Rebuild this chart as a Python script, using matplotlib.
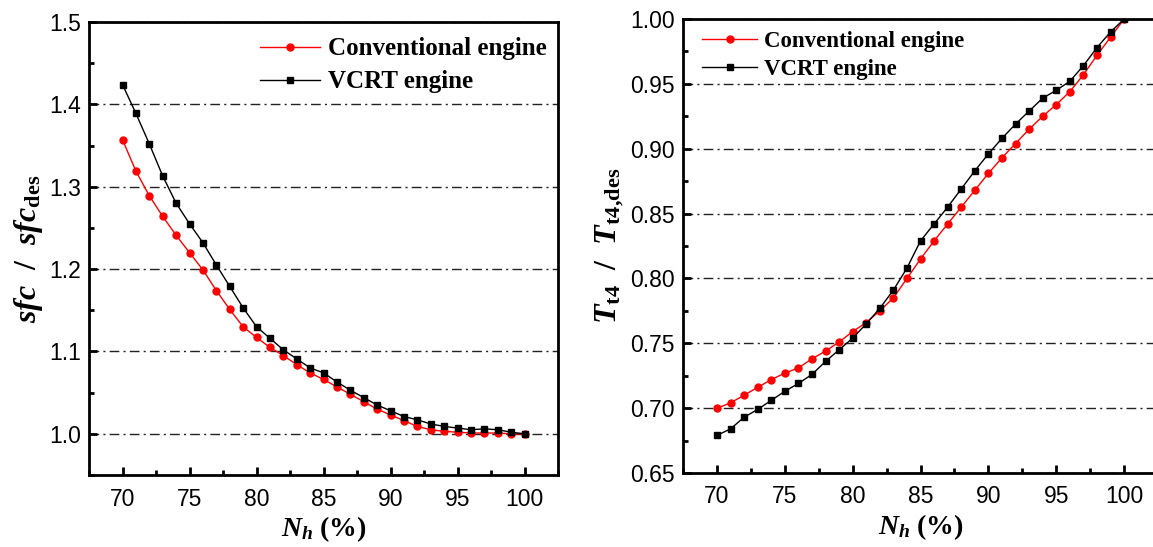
import numpy as np
import matplotlib
matplotlib.use("Agg")
import matplotlib.pyplot as plt
from matplotlib.ticker import MultipleLocator

# relative speed (%) for both panels
nh = list(range(70, 101))

# specific fuel consumption ratio
sfc_conv = [1.357, 1.319, 1.289, 1.264, 1.241, 1.220, 1.199, 1.174, 1.151, 1.130,
            1.117, 1.105, 1.095, 1.084, 1.074, 1.066, 1.057, 1.048, 1.039, 1.030,
            1.023, 1.016, 1.009, 1.005, 1.003, 1.002, 1.001, 1.001, 1.001, 1.000, 1.000]
sfc_vcrt = [1.424, 1.389, 1.352, 1.313, 1.280, 1.255, 1.232, 1.205, 1.179, 1.153,
            1.130, 1.116, 1.102, 1.091, 1.080, 1.074, 1.063, 1.053, 1.044, 1.035,
            1.028, 1.021, 1.017, 1.012, 1.009, 1.007, 1.005, 1.006, 1.005, 1.002, 1.000]

# turbine inlet temperature ratio
t4_conv = [0.700, 0.704, 0.710, 0.716, 0.722, 0.727, 0.731, 0.738, 0.744, 0.751,
           0.759, 0.766, 0.775, 0.785, 0.800, 0.815, 0.829, 0.842, 0.855, 0.868,
           0.881, 0.893, 0.904, 0.915, 0.925, 0.934, 0.944, 0.957, 0.972, 0.986, 1.000]
t4_vcrt = [0.679, 0.684, 0.693, 0.699, 0.706, 0.713, 0.719, 0.726, 0.736, 0.745,
           0.754, 0.765, 0.777, 0.791, 0.808, 0.829, 0.842, 0.855, 0.869, 0.883,
           0.896, 0.908, 0.919, 0.929, 0.939, 0.945, 0.952, 0.964, 0.978, 0.990, 1.000]

plt.rcParams.update({
    'font.family': 'Liberation Sans',
    'mathtext.fontset': 'custom',
    'mathtext.rm': 'Liberation Serif:bold',
    'mathtext.it': 'Liberation Serif:italic:bold',
    'mathtext.bf': 'Liberation Serif:bold',
})

fig = plt.figure(figsize=(11.53, 5.47), dpi=100)
ax1 = fig.add_axes([0.0772, 0.1316, 0.4068, 0.8282])
ax2 = fig.add_axes([0.5924, 0.1353, 0.4120, 0.8300])

grid_ls = (0, (7, 3, 1.5, 3))
serif_bold = {'family': 'Liberation Serif', 'weight': 'bold'}


def style_axes(ax, ylim, ymajor, fmt, legend_size, legend_anchor, spacing):
    ax.set_xlim(67.5, 102.5)
    ax.set_ylim(*ylim)
    ax.xaxis.set_major_locator(MultipleLocator(5))
    ax.xaxis.set_minor_locator(MultipleLocator(2.5))
    ax.yaxis.set_major_locator(MultipleLocator(ymajor))
    ax.yaxis.set_minor_locator(MultipleLocator(ymajor / 2))
    ax.yaxis.set_major_formatter(plt.FormatStrFormatter(fmt))
    ax.tick_params(which='major', direction='in', length=6, width=2,
                   labelsize=16.5, pad=6)
    ax.tick_params(axis='x', which='major', pad=9)
    ax.tick_params(which='minor', direction='in', length=3.5, width=2)
    ax.tick_params(top=False, right=False, which='both')
    for s in ax.spines.values():
        s.set_linewidth(2)
    ax.yaxis.grid(True, color='#222222', linestyle=grid_ls, linewidth=1)
    ax.set_axisbelow(True)
    ax.set_xlabel(r'$N_h$ (%)', fontsize=20, fontdict=serif_bold, labelpad=3)
    ax.legend(loc='upper left', bbox_to_anchor=legend_anchor, frameon=False,
              prop={'family': 'Liberation Serif', 'weight': 'bold', 'size': legend_size},
              handlelength=2.4, handletextpad=0.3, labelspacing=spacing,
              borderpad=0, borderaxespad=0)


ax1.plot(nh, sfc_conv, '-o', color='red', lw=1, ms=5, label='Conventional engine')
ax1.plot(nh, sfc_vcrt, '-s', color='black', lw=1, ms=4.3, label='VCRT engine')
style_axes(ax1, (0.95, 1.5), 0.1, '%.1f', 18, (0.365, 0.966), 0.4)
ax1.set_ylabel(r'$sfc$  /  $sfc_{\mathrm{des}}$', fontsize=23, fontdict=serif_bold,
               labelpad=3)

ax2.plot(nh, t4_conv, '-o', color='red', lw=1, ms=5, label='Conventional engine')
ax2.plot(nh, t4_vcrt, '-s', color='black', lw=1, ms=4.3, label='VCRT engine')
style_axes(ax2, (0.65, 1.0), 0.05, '%.2f', 16.5, (0.04, 0.974), 0.3)
ax2.set_ylabel(r'$T_{\mathrm{t4}}$  /  $T_{\mathrm{t4{,}des}}$', fontsize=23,
               fontdict=serif_bold, labelpad=3)

fig.savefig('out.png', dpi=100)
